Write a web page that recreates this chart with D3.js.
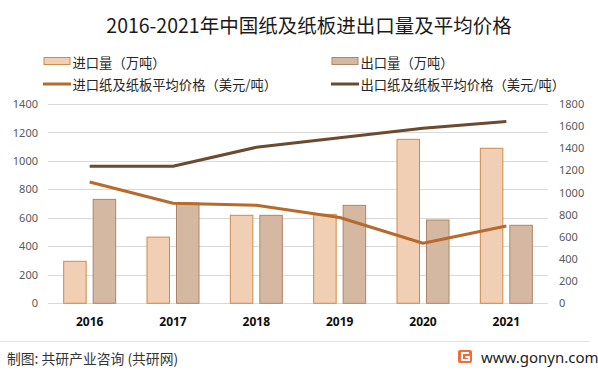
<!DOCTYPE html>
<html><head><meta charset="utf-8">
<script src="https://cdn.jsdelivr.net/npm/d3@7"></script>
<style>body{margin:0;background:#fff;}svg{display:block;font-family:"Noto Sans CJK SC","Noto Sans",sans-serif;}</style>
</head><body>
<svg id="c" width="598" height="373"></svg>
<script>
const years = ["2016","2017","2018","2019","2020","2021"];
const importVol = [295, 465, 618, 625, 1152, 1089];
const exportVol = [730, 705, 618, 688, 585, 548];
const importPrice = [1095, 903, 885, 775, 542, 698];
const exportPrice = [1237, 1237, 1409, 1495, 1580, 1643];
const leftTicks = [0,200,400,600,800,1000,1200,1400];
const rightTicks = [0,200,400,600,800,1000,1200,1400,1600,1800];
const title = "2016-2021年中国纸及纸板进出口量及平均价格";
const legendNames = ["进口量（万吨）","出口量（万吨）","进口纸及纸板平均价格（美元/吨）","出口纸及纸板平均价格（美元/吨）"];

const svg = d3.select("#c");
const x = d3.scaleBand().domain(years).range([48,548]);
const yL = d3.scaleLinear().domain([0,1400]).range([303.3,104]);
const yR = d3.scaleLinear().domain([0,1800]).range([303.3,104]);

const impFill="#f0cfb4", impStroke="#d08a4c", expFill="#d5b8a2", expStroke="#b08468";
const impLine="#b86a2c", expLine="#6b4a2f";

// title
svg.append("text").attr("x",309).attr("y",33).attr("text-anchor","middle")
  .attr("font-size",19.5).attr("fill","#1a1a1a").text(title);

// legend
const lg = svg.append("g").attr("font-size",13.3).attr("fill","#262626");
[[44,0],[332,1]].forEach(([lx,i])=>{
  lg.append("rect").attr("x",lx).attr("y",57.5).attr("width",26).attr("height",7)
    .attr("fill",i?expFill:impFill).attr("stroke",i?expStroke:impStroke).attr("stroke-width",1);
  lg.append("text").attr("x",lx+28.5).attr("y",62).attr("dominant-baseline","central").text(legendNames[i]);
  lg.append("line").attr("x1",lx-1).attr("x2",lx+27).attr("y1",84).attr("y2",84)
    .attr("stroke",i?expLine:impLine).attr("stroke-width",3);
  lg.append("text").attr("x",lx+28.5).attr("y",84).attr("dominant-baseline","central").text(legendNames[i+2]);
});

// gridlines
svg.append("g").selectAll("line").data(leftTicks).join("line")
  .attr("x1",48).attr("x2",548).attr("y1",d=>Math.round(yL(d))+0.5).attr("y2",d=>Math.round(yL(d))+0.5)
  .attr("stroke","#d9d9d9").attr("stroke-width",1);

// axes
const fmt = d3.format("d");
const ga = svg.append("g").attr("transform","translate(41,0)")
  .call(d3.axisLeft(yL).tickValues(leftTicks).tickFormat(fmt).tickSize(0).tickPadding(3));
ga.select(".domain").remove();
ga.selectAll("text").attr("font-size",11).attr("fill","#595959").attr("font-family","'Noto Sans','Liberation Sans',sans-serif");
const gr = svg.append("g").attr("transform","translate(556,0)")
  .call(d3.axisRight(yR).tickValues(rightTicks).tickFormat(fmt).tickSize(0).tickPadding(3));
gr.select(".domain").remove();
gr.selectAll("text").attr("font-size",11).attr("fill","#595959").attr("font-family","'Noto Sans','Liberation Sans',sans-serif");

// bars
const bw = 22.5;
svg.append("g").selectAll("rect").data(years).join("rect")
  .attr("x",d=>x(d)+x.bandwidth()/2-26).attr("width",bw)
  .attr("y",(d,i)=>yL(importVol[i])).attr("height",(d,i)=>yL(0)-yL(importVol[i]))
  .attr("fill",impFill).attr("stroke",impStroke).attr("stroke-width",1);
svg.append("g").selectAll("rect").data(years).join("rect")
  .attr("x",d=>x(d)+x.bandwidth()/2+3.5).attr("width",bw)
  .attr("y",(d,i)=>yL(exportVol[i])).attr("height",(d,i)=>yL(0)-yL(exportVol[i]))
  .attr("fill",expFill).attr("stroke",expStroke).attr("stroke-width",1);

// lines
const cx = d=>x(d)+x.bandwidth()/2;
const line = arr => d3.line().x((d,i)=>cx(years[i])).y(d=>yR(d))(arr);
svg.append("path").attr("d",line(importPrice)).attr("fill","none").attr("stroke",impLine).attr("stroke-width",3).attr("stroke-linejoin","round");
svg.append("path").attr("d",line(exportPrice)).attr("fill","none").attr("stroke",expLine).attr("stroke-width",3).attr("stroke-linejoin","round");

// x labels
svg.append("g").selectAll("text").data(years).join("text")
  .attr("x",d=>cx(d)).attr("y",321).attr("text-anchor","middle").attr("dominant-baseline","central")
  .attr("font-size",12).attr("font-weight","bold").attr("fill","#0d0d0d")
  .attr("font-family","'Noto Sans','Liberation Sans',sans-serif").text(d=>d);

// footer
svg.append("line").attr("x1",0).attr("x2",590).attr("y1",341.5).attr("y2",341.5).attr("stroke","#e3e3e3");
svg.append("text").attr("x",7).attr("y",358).attr("dominant-baseline","central")
  .attr("font-size",13.8).attr("fill","#333").text("制图: 共研产业咨询 (共研网)");
const ic = svg.append("g").attr("transform","translate(458,350)");
ic.append("rect").attr("width",14).attr("height",13).attr("rx",2).attr("fill","#f26b3a");
ic.append("path").attr("d","M11,3 H4 V10 H11 V7 H7.5").attr("fill","none").attr("stroke","#fff").attr("stroke-width",2);
svg.append("text").attr("x",481).attr("y",357).attr("dominant-baseline","central")
  .attr("font-size",15).attr("fill","#222").attr("font-family","'Noto Sans','Liberation Sans',sans-serif").text("www.gonyn.com");
</script>
</body></html>
